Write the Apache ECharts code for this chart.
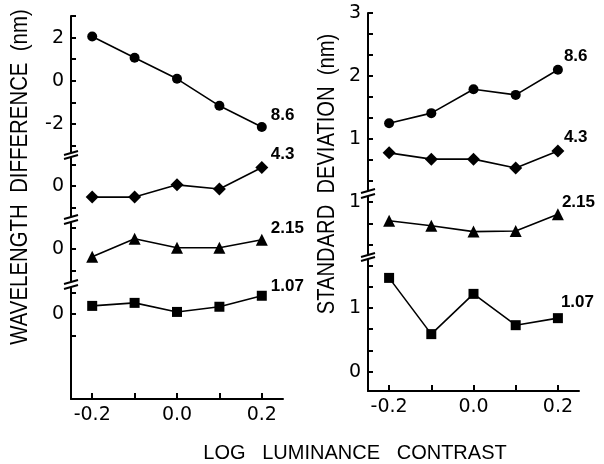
<!DOCTYPE html>
<html style="height: 100%">
<head>
<meta charset="utf-8">
<script src="https://cdn.jsdelivr.net/npm/echarts@6/dist/echarts.min.js"></script>
</head>
<body style="height: 100%; margin: 0; background: #fff">
<div id="container" style="width: 604px; height: 464px"></div>
<script type="text/javascript">

// x values (log luminance contrast)
let xVals = [-0.2, -0.1, 0.0, 0.1, 0.2];
let xTicks = [-0.2, -0.1, 0.0, 0.1, 0.2];
let xTickLabels = [-0.2, 0.0, 0.2];

// left panel: wavelength difference (nm), one array per stimulus value
let wd86 = [2.05, 1.07, 0.09, -1.16, -2.14];
let wd43 = [-0.52, -0.52, 0.05, -0.14, 0.86];
let wd215 = [-0.37, 0.47, 0.05, 0.05, 0.42];
let wd107 = [0.37, 0.51, 0.09, 0.33, 0.84];

// right panel: standard deviation (nm)
let sd86 = [1.25, 1.41, 1.79, 1.70, 2.10];
let sd43 = [0.78, 0.68, 0.68, 0.54, 0.81];
let sd215 = [0.71, 0.63, 0.54, 0.55, 0.81];
let sd107 = [1.47, 0.59, 1.22, 0.73, 0.84];

// y tick positions / labels for each axis piece
let wdTicks = [[3, 2, 1, 0, -1, -2, -3], [1, 0, -1], [1, 0, -1], [1, 0, -1]];
let wdLabels = [[2, 0, -2], [0], [0], [0]];
let sdTicks = [[3, 8/3, 7/3, 2, 5/3, 4/3, 1, 2/3, 1/3], [1, 2/3, 1/3], [5/3, 4/3, 1, 2/3, 1/3, 0]];
let sdLabels = [[3, 2, 1], [1], [1, 0]];

// layout of the broken axis pieces (pixels + axis ranges)
let leftPieces = [
    {top: 16, height: 136, min: -3.3, max: 3.0},
    {top: 158, height: 58, min: -1.4, max: 1.3},
    {top: 223, height: 58, min: -1.5, max: 1.2},
    {top: 288, height: 111, min: -3.95, max: 1.2}
];
let rightPieces = [
    {top: 13, height: 177, min: 0.19, max: 3.0},
    {top: 197, height: 57, min: 0.19, max: 1.08},
    {top: 260, height: 131, min: -0.3, max: 1.75}
];
let leftX = 71, leftW = 212;
let rightX = 368, rightW = 211;

let font = 'Liberation Sans';
let grids = [], xAxes = [], yAxes = [], series = [], graphics = [];

function addPiece(p, x, w, ticks, labels, isBottom) {
    let idx = grids.length;
    grids.push({left: x, top: p.top, width: w, height: p.height});
    xAxes.push({
        type: 'value', gridIndex: idx, min: -0.25, max: 0.25,
        show: isBottom,
        splitLine: {show: false},
        axisLine: {show: true, onZero: false, lineStyle: {color: '#000', width: 2}},
        axisTick: {show: true, inside: true, length: 6, customValues: xTicks, lineStyle: {color: '#000', width: 2}},
        axisLabel: {show: true, customValues: xTickLabels, margin: 7, color: '#000', fontSize: 19, fontFamily: 'DejaVu Sans',
            formatter: function (v) { return v.toFixed(1); }}
    });
    yAxes.push({
        type: 'value', gridIndex: idx, min: p.min, max: p.max,
        splitLine: {show: false},
        axisLine: {show: true, onZero: false, lineStyle: {color: '#000', width: 2}},
        axisTick: {show: true, inside: true, length: 5, customValues: ticks, lineStyle: {color: '#000', width: 2}},
        axisLabel: {show: true, customValues: labels, margin: 7, color: '#000', fontSize: 19, fontFamily: 'DejaVu Sans',
            formatter: function (v) { return String(Math.round(v)); }}
    });
    return idx;
}

function addLine(idx, name, values, symbol, size, offset) {
    series.push({
        name: name, type: 'line', xAxisIndex: idx, yAxisIndex: idx,
        data: xVals.map(function (x, i) { return [x, values[i]]; }),
        symbol: symbol, symbolSize: size, showAllSymbol: true,
        lineStyle: {color: '#000', width: 1.6},
        itemStyle: {color: '#000'},
        endLabel: {show: true, formatter: '{a}', offset: offset, color: '#000', fontSize: 17,
            fontWeight: 'bold', fontFamily: font}
    });
}

function addBreak(x, y1, y2) {
    [y1, y2].forEach(function (y) {
        graphics.push({type: 'line', shape: {x1: x - 7, y1: y + 2, x2: x + 7, y2: y - 2},
            style: {stroke: '#000', lineWidth: 2}});
    });
}

// left panel
let L = leftPieces.map(function (p, i) {
    return addPiece(p, leftX, leftW, wdTicks[i], wdLabels[i], i === leftPieces.length - 1);
});
addLine(L[0], '8.6', wd86, 'circle', 10, [1, -12]);
addLine(L[1], '4.3', wd43, 'diamond', 13, [1, -13]);
addLine(L[2], '2.15', wd215, 'triangle', 12, [1, -11]);
addLine(L[3], '1.07', wd107, 'rect', 10, [1, -9]);

// right panel
let R = rightPieces.map(function (p, i) {
    return addPiece(p, rightX, rightW, sdTicks[i], sdLabels[i], i === rightPieces.length - 1);
});
addLine(R[0], '8.6', sd86, 'circle', 10, [-2, -13]);
addLine(R[0], '4.3', sd43, 'diamond', 13, [-2, -14]);
addLine(R[1], '2.15', sd215, 'triangle', 12, [-4, -12]);
addLine(R[2], '1.07', sd107, 'rect', 10, [-5, -16]);

// break marks between axis pieces
for (let i = 0; i < leftPieces.length - 1; i++) {
    addBreak(leftX, leftPieces[i].top + leftPieces[i].height + 1, leftPieces[i + 1].top - 1);
}
for (let i = 0; i < rightPieces.length - 1; i++) {
    addBreak(rightX, rightPieces[i].top + rightPieces[i].height + 1, rightPieces[i + 1].top - 1);
}

// axis titles
graphics.push({type: 'text', x: 20, y: 177, rotation: Math.PI / 2, scaleX: 0.85,
    style: {text: 'WAVELENGTH  DIFFERENCE  (nm)', fill: '#000', font: '24px ' + font, align: 'center', verticalAlign: 'middle'}});
graphics.push({type: 'text', x: 327, y: 174, rotation: Math.PI / 2, scaleX: 0.84,
    style: {text: 'STANDARD  DEVIATION  (nm)', fill: '#000', font: '24px ' + font, align: 'center', verticalAlign: 'middle'}});
graphics.push({type: 'text', x: 355, y: 453,
    style: {text: 'LOG   LUMINANCE   CONTRAST', fill: '#000', font: '20px ' + font, align: 'center', verticalAlign: 'middle'}});

let chart = echarts.init(document.getElementById('container'));
chart.setOption({
    animation: false,
    backgroundColor: '#fff',
    grid: grids,
    xAxis: xAxes,
    yAxis: yAxes,
    series: series,
    graphic: graphics
});

</script>
</body>
</html>
